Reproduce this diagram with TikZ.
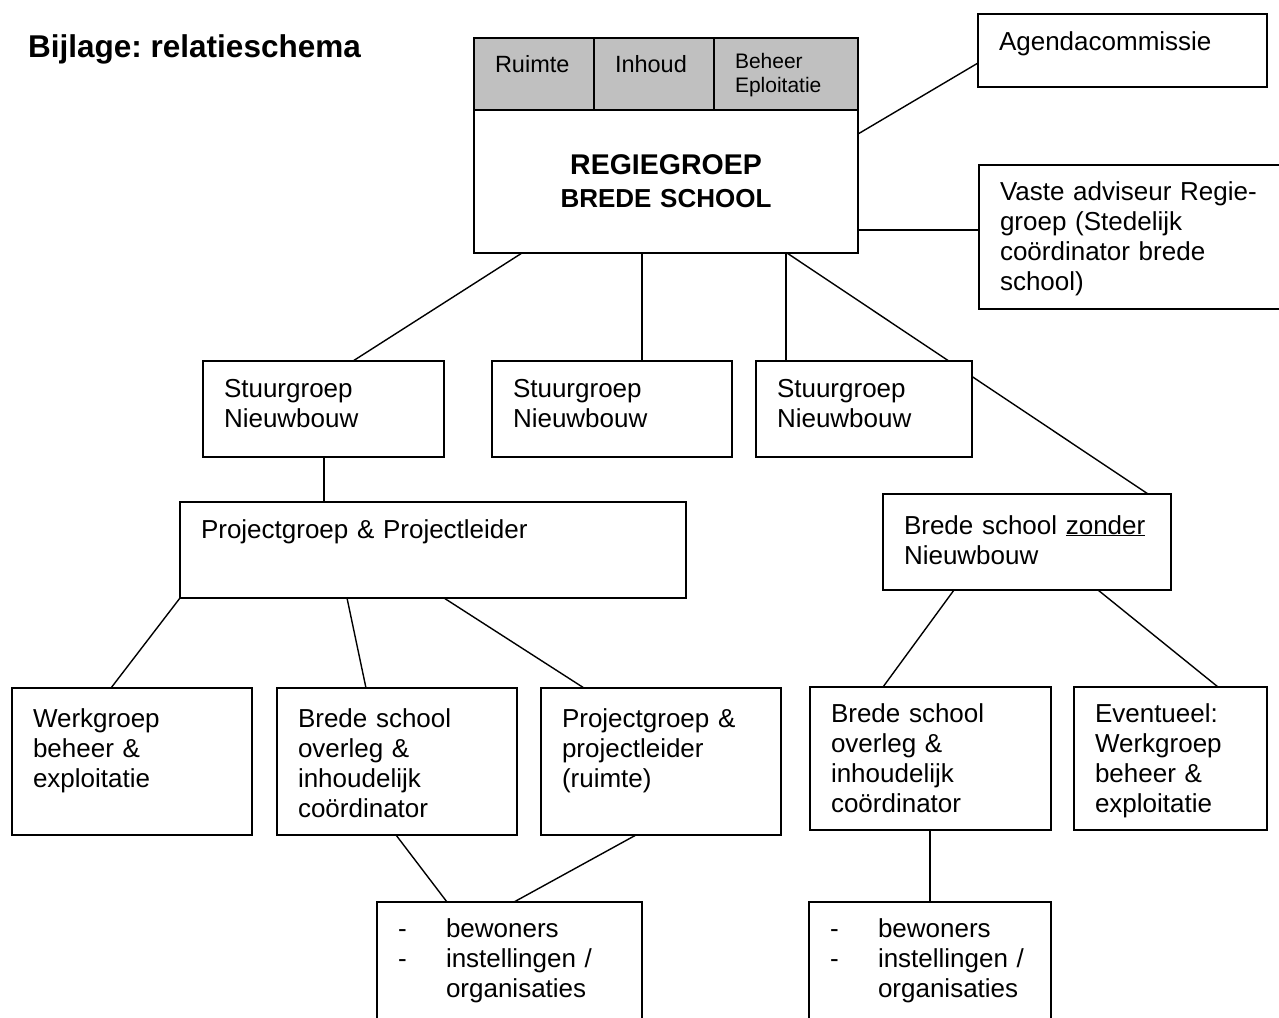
\documentclass[tikz,border=0pt]{standalone}
\usepackage{fontspec}
\setmainfont{Liberation Sans}
\frenchspacing
\usetikzlibrary{shapes,positioning,backgrounds}
\definecolor{kopgrijs}{RGB}{192,192,192}
\tikzstyle{kader} = [rectangle, draw, fill=white, line width=1.6pt, anchor=north west,
    outer sep=0pt, inner xsep=21pt, inner ysep=16pt, text height=20pt, align=left,
    font=\fontsize{26}{30}\selectfont]
\tikzstyle{kop} = [kader, fill=kopgrijs, inner ysep=14pt,
    font=\fontsize{23.5}{27}\selectfont]
\tikzstyle{regie} = [rectangle, draw, fill=white, line width=1.6pt, anchor=north west,
    outer sep=0pt, inner sep=0pt, align=center, text width=384pt, minimum height=143pt,
    font=\fontsize{26}{33}\selectfont\bfseries]
\tikzstyle{lijn} = [draw, line width=1.4pt]

\begin{document}
\begin{tikzpicture}[x=1pt, y=-1pt]
    \useasboundingbox (0,0) rectangle (1279,1017);
    \clip (0,0) rectangle (1279,1017);

    \node[anchor=base west, inner sep=0pt, font=\fontsize{31.5}{36}\selectfont\bfseries] (titel) at (28,57) {Bijlage: relatieschema};

    % regiegroep met kopvakken
    \node[regie] (regie) at (474,110) {{\fontsize{28.5}{33}\selectfont REGIEGROEP}\\BREDE SCHOOL};
    \node[kop, text width=78pt, text depth=24pt] (kopA) at (474,38) {Ruimte};
    \node[kop, text width=78pt, text depth=24pt] (kopB) at (594,38) {Inhoud};
    \node[kop, text width=102pt, text height=16pt, text depth=28pt, font=\fontsize{21}{24}\selectfont] (kopC) at (714,38) {Beheer\\Eploitatie};

    \node[kader, text width=247pt, text depth=21pt] (agenda) at (978,14) {Agendacommissie};
    \node[kader, text width=278pt, text height=19pt, text depth=93pt] (vaste) at (979,165) {Vaste adviseur Regie-\\groep (Stedelijk\\co\"ordinator brede\\school)};

    % stuurgroepen
    \node[kader, text width=199pt, text depth=44pt] (stuurA) at (203,361) {Stuurgroep\\Nieuwbouw};
    \node[kader, text width=198pt, text depth=44pt] (stuurB) at (492,361) {Stuurgroep\\Nieuwbouw};
    \node[kader, text width=174pt, text depth=44pt] (stuurC) at (756,361) {Stuurgroep\\Nieuwbouw};

    \node[kader, text width=464pt, text depth=44pt] (project) at (180,502) {Projectgroep \& Projectleider};
    \node[kader, text width=246pt, text height=24pt, text depth=40pt] (zonder) at (883,494) {Brede school \underline{zonder}\\Nieuwbouw};

    % werkgroepen
    \node[kader, text width=198pt, text height=23pt, text depth=92pt] (werk) at (12,688) {Werkgroep\\beheer \&\\exploitatie};
    \node[kader, text width=198pt, text height=23pt, text depth=92pt] (overA) at (277,688) {Brede school\\overleg \&\\inhoudelijk\\co\"ordinator};
    \node[kader, text width=198pt, text height=23pt, text depth=92pt] (projB) at (541,688) {Projectgroep \&\\projectleider\\(ruimte)};
    \node[kader, text width=199pt, text height=19pt, text depth=92pt] (overB) at (810,687) {Brede school\\overleg \&\\inhoudelijk\\co\"ordinator};
    \node[kader, text width=151pt, text height=19pt, text depth=92pt] (event) at (1074,687) {Eventueel:\\Werkgroep\\beheer \&\\exploitatie};

    \node[kader, text width=223pt, text height=19pt, text depth=99pt] (lijstA) at (377,902) {\makebox[48pt][l]{-}bewoners\\\makebox[48pt][l]{-}instellingen /\\\hspace*{48pt}organisaties};
    \node[kader, text width=200pt, text height=19pt, text depth=99pt] (lijstB) at (809,902) {\makebox[48pt][l]{-}bewoners\\\makebox[48pt][l]{-}instellingen /\\\hspace*{48pt}organisaties};

    \begin{pgfonlayer}{background}
    \path[lijn] ([yshift=-24pt]regie.north east) -- ([yshift=-49pt]agenda.north west);
    \path[lijn] ([yshift=-120pt]regie.north east) -- ([yshift=-65pt]vaste.north west);

    \path[lijn] ([xshift=48pt]regie.south west) -- ([xshift=150pt]stuurA.north west);
    \path[lijn] ([xshift=168pt]regie.south west) -- ([xshift=150pt]stuurB.north west);
    \path[lijn] ([xshift=312pt]regie.south west) -- ([xshift=30pt]stuurC.north west);
    \path[lijn] ([xshift=313pt]regie.south west) -- ([xshift=265pt]zonder.north west);

    \path[lijn] ([xshift=121pt]stuurA.south west) -- ([xshift=144pt]project.north west);

    \path[lijn] (project.south west) -- ([xshift=99pt]werk.north west);
    \path[lijn] ([xshift=167pt]project.south west) -- ([xshift=89pt]overA.north west);
    \path[lijn] ([xshift=264pt]project.south west) -- ([xshift=43pt]projB.north west);

    \path[lijn] ([xshift=71pt]zonder.south west) -- ([xshift=73pt]overB.north west);
    \path[lijn] ([xshift=215pt]zonder.south west) -- ([xshift=144pt]event.north west);

    \path[lijn] ([xshift=119pt]overA.south west) -- ([xshift=70pt]lijstA.north west);
    \path[lijn] ([xshift=95pt]projB.south west) -- ([xshift=137pt]lijstA.north west);
    \path[lijn] ([xshift=120pt]overB.south west) -- ([xshift=121pt]lijstB.north west);
    \end{pgfonlayer}
\end{tikzpicture}
\end{document}
